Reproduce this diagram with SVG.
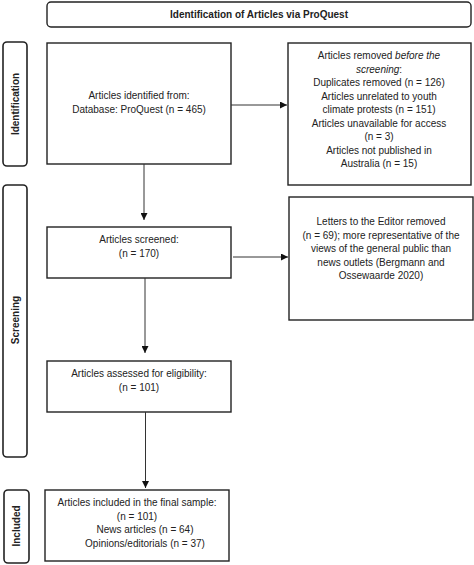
<svg xmlns="http://www.w3.org/2000/svg" width="474" height="565" viewBox="0 0 474 565">
<style>
.box{fill:#fff;stroke:#222;stroke-width:1.4}
.side{fill:#fff;stroke:#222;stroke-width:1.6}
.t{font-family:"Liberation Sans",Arial,sans-serif;font-size:10px;fill:#222;text-anchor:middle}
.b{font-weight:bold}
.c{stroke:#333;stroke-width:1;fill:none;marker-end:url(#ah)}
</style>
<defs>
<marker id="ah" viewBox="0 0 10 10" refX="10" refY="5" markerWidth="7" markerHeight="7" markerUnits="userSpaceOnUse" orient="auto">
<path d="M0,0 L10,5 L0,10 z" fill="#111"/>
</marker>
</defs>
<rect width="474" height="565" fill="#fff"/>
<g id="title">
<rect class="box" x="47" y="2" width="424" height="25" rx="4"/>
<text class="t b" x="259" y="18">Identification of Articles via ProQuest</text>
</g>
<g id="label-identification">
<rect class="side" x="3" y="42" width="24" height="124" rx="4"/>
<text class="t b" transform="translate(18.5,104) rotate(-90)">Identification</text>
</g>
<g id="label-screening">
<rect class="side" x="3" y="185" width="24" height="272" rx="4"/>
<text class="t b" transform="translate(18.5,320) rotate(-90)">Screening</text>
</g>
<g id="label-included">
<rect class="side" x="4" y="490" width="25" height="73" rx="4"/>
<text class="t b" transform="translate(19.5,526) rotate(-90)">Included</text>
</g>
<g id="identified">
<rect class="box" x="47" y="43" width="184" height="121"/>
<text class="t" x="139" y="99">Articles identified from:</text>
<text class="t" x="139" y="113">Database: ProQuest (n = 465)</text>
</g>
<g id="removed">
<rect class="box" x="288" y="43" width="183" height="142"/>
<text class="t" x="379" y="59">Articles removed <tspan font-style="italic">before the</tspan></text>
<text class="t" x="379" y="72.5" font-style="italic">screening<tspan font-style="normal">:</tspan></text>
<text class="t" x="379" y="86">Duplicates removed (n = 126)</text>
<text class="t" x="379" y="99.5">Articles unrelated to youth</text>
<text class="t" x="379" y="113">climate protests (n = 151)</text>
<text class="t" x="379" y="126.5">Articles unavailable for access</text>
<text class="t" x="379" y="140">(n = 3)</text>
<text class="t" x="379" y="153.5">Articles not published in</text>
<text class="t" x="379" y="167">Australia (n = 15)</text>
</g>
<g id="screened">
<rect class="box" x="47" y="227" width="184" height="51"/>
<text class="t" x="139" y="243">Articles screened:</text>
<text class="t" x="139" y="256.5">(n = 170)</text>
</g>
<g id="letters">
<rect class="box" x="289" y="197" width="184" height="123"/>
<text class="t" x="381" y="225">Letters to the Editor removed</text>
<text class="t" x="381" y="238.5">(n = 69); more representative of the</text>
<text class="t" x="381" y="252">views of the general public than</text>
<text class="t" x="381" y="265.5">news outlets (Bergmann and</text>
<text class="t" x="381" y="279">Ossewaarde 2020)</text>
</g>
<g id="assessed">
<rect class="box" x="47" y="361" width="184" height="51"/>
<text class="t" x="139" y="377">Articles assessed for eligibility:</text>
<text class="t" x="139" y="390.5">(n = 101)</text>
</g>
<g id="included">
<rect class="box" x="45" y="490" width="184" height="71"/>
<text class="t" x="137" y="506">Articles included in the final sample:</text>
<text class="t" x="137" y="519.5">(n = 101)</text>
<text class="t" x="145" y="533">News articles (n = 64)</text>
<text class="t" x="145" y="546.5">Opinions/editorials (n = 37)</text>
</g>
<g id="connectors">
<path class="c" d="M231,105 H287"/>
<path class="c" d="M144,164 V220"/>
<path class="c" d="M233,257 H288"/>
<path class="c" d="M145,278 V353"/>
<path class="c" d="M145.5,412 V488"/>
</g>
</svg>
